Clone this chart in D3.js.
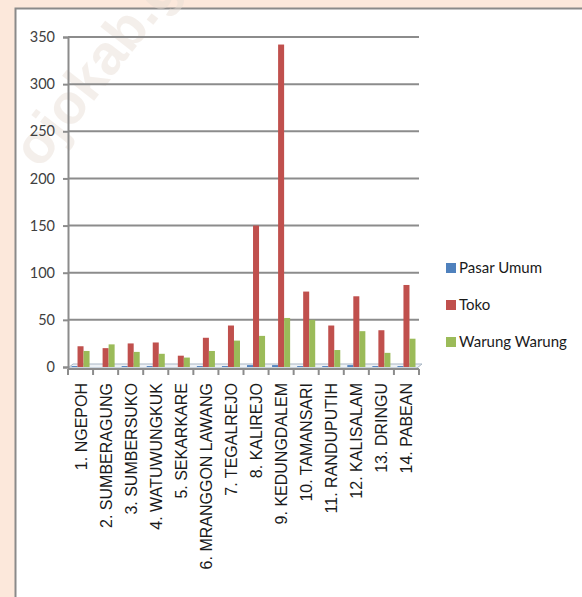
<!DOCTYPE html>
<html>
<head>
<meta charset="utf-8">
<script src="https://cdn.jsdelivr.net/npm/d3@7"></script>
<style>
  html, body { margin: 0; padding: 0; background: #fce8db; }
  svg { display: block; }
</style>
</head>
<body>
<svg id="chart" width="582" height="597"></svg>
<script>
// data
const categories = [
  "1. NGEPOH", "2. SUMBERAGUNG", "3. SUMBERSUKO", "4. WATUWUNGKUK",
  "5. SEKARKARE", "6. MRANGGON LAWANG", "7. TEGALREJO", "8. KALIREJO",
  "9. KEDUNGDALEM", "10. TAMANSARI", "11. RANDUPUTIH", "12. KALISALAM",
  "13. DRINGU", "14. PABEAN"
];
const pasarUmum = [1, 0, 1, 1, 0, 1, 1, 2, 2, 1, 1, 2, 1, 1];
const toko = [22, 20, 25, 26, 12, 31, 44, 150, 342, 80, 44, 75, 39, 87];
const warung = [17, 24, 16, 14, 10, 17, 28, 33, 52, 50, 18, 38, 15, 30];
const seriesNames = ["Pasar Umum", "Toko", "Warung Warung"];
const yTicks = [0, 50, 100, 150, 200, 250, 300, 350];

const colors = ["#4f81bd", "#c0504d", "#9bbb59"];
const seriesValues = [pasarUmum, toko, warung];

const svg = d3.select("#chart");
const width = +svg.attr("width");
const height = +svg.attr("height");
const margin = { top: 37, right: 163, bottom: 230, left: 68 };

// white panel with grey edge, peach strip top & left
svg.append("rect").attr("x", 15).attr("y", 8).attr("width", width - 15).attr("height", height - 8)
  .attr("fill", "#ffffff");
svg.append("path").attr("d", `M15.5,${height} V8.5 H${width}`)
  .attr("fill", "none").attr("stroke", "#8a8a8a").attr("stroke-width", 2);

// faint watermark (runs off the panel edge, as in the source)
svg.append("text")
  .attr("transform", "translate(40,170) rotate(-52)")
  .attr("font-family", "Liberation Sans, Arial, sans-serif")
  .attr("font-weight", "bold")
  .attr("font-size", 56)
  .attr("fill", "#e8ddd4")
  .attr("opacity", 0.45)
  .text("ojokab.go");

const x = d3.scaleBand()
  .domain(categories)
  .range([margin.left, width - margin.right])
  .paddingInner(0.28)
  .paddingOuter(0.14);

const inner = d3.scaleBand()
  .domain(seriesNames)
  .range([0, x.bandwidth()])
  .padding(0);

const y = d3.scaleLinear()
  .domain([0, 350])
  .range([height - margin.bottom, margin.top]);

// gridlines
svg.append("g")
  .selectAll("line")
  .data(yTicks.filter(d => d > 0))
  .join("line")
  .attr("x1", margin.left).attr("x2", width - margin.right)
  .attr("y1", d => y(d)).attr("y2", d => y(d))
  .attr("stroke", "#8c8c8c").attr("stroke-width", 2);

// floor
svg.append("path")
  .attr("d", `M${margin.left},${y(0) + 1} L${margin.left + 5},${y(0) - 3} H${width - margin.right + 3} L${width - margin.right - 2},${y(0) + 1} Z`)
  .attr("fill", "#eef2f6").attr("stroke", "#a9b6c4").attr("stroke-width", 1);

// bars
const groups = svg.append("g")
  .selectAll("g")
  .data(seriesNames)
  .join("g")
  .attr("fill", (d, i) => colors[i]);

groups.selectAll("rect")
  .data((s, si) => seriesValues[si].map((v, ci) => ({ s, c: categories[ci], v })))
  .join("rect")
  .attr("x", d => x(d.c) + inner(d.s))
  .attr("y", d => y(d.v))
  .attr("width", inner.bandwidth())
  .attr("height", d => y(0) - y(d.v));

// y axis
const yAxis = svg.append("g")
  .attr("transform", `translate(${margin.left},0)`)
  .call(d3.axisLeft(y).tickValues(yTicks).tickSize(5).tickPadding(8));
yAxis.select(".domain").attr("stroke", "#8c8c8c").attr("stroke-width", 2);
yAxis.selectAll(".tick line").attr("stroke", "#8c8c8c").attr("stroke-width", 2);
yAxis.selectAll("text")
  .attr("font-family", "Lato, 'Open Sans', sans-serif")
  .attr("font-size", 14.5)
  .attr("fill", "#404040");

// x axis: ticks at category boundaries
const xAxisG = svg.append("g").attr("transform", `translate(0,${y(0) + 2})`);
xAxisG.append("line")
  .attr("x1", margin.left).attr("x2", width - margin.right)
  .attr("stroke", "#8c8c8c").attr("stroke-width", 2);
const step = x.step();
xAxisG.selectAll("line.tk")
  .data(categories.concat(["end"]))
  .join("line")
  .attr("class", "tk")
  .attr("x1", (d, i) => margin.left + i * step)
  .attr("x2", (d, i) => margin.left + i * step)
  .attr("y1", 0).attr("y2", 6)
  .attr("stroke", "#8c8c8c").attr("stroke-width", 2);
xAxisG.selectAll("text")
  .data(categories)
  .join("text")
  .attr("transform", d => `translate(${x(d) + x.bandwidth() / 2 + 6},14) rotate(-90)`)
  .attr("text-anchor", "end")
  .attr("font-family", "'Liberation Sans', Arial, sans-serif")
  .attr("font-size", 16)
  .attr("fill", "#1a1a1a")
  .text(d => d);

// legend
const legend = svg.append("g").attr("transform", "translate(446,268)");
const li = legend.selectAll("g")
  .data(seriesNames)
  .join("g")
  .attr("transform", (d, i) => `translate(0,${i * 37})`);
li.append("rect")
  .attr("x", 0).attr("y", -5).attr("width", 10).attr("height", 10)
  .attr("fill", (d, i) => colors[i]);
li.append("text")
  .attr("x", 13).attr("y", 5)
  .attr("font-family", "Lato, 'Open Sans', sans-serif")
  .attr("font-size", 15)
  .attr("fill", "#1a1a1a")
  .text(d => d);
</script>
</body>
</html>
